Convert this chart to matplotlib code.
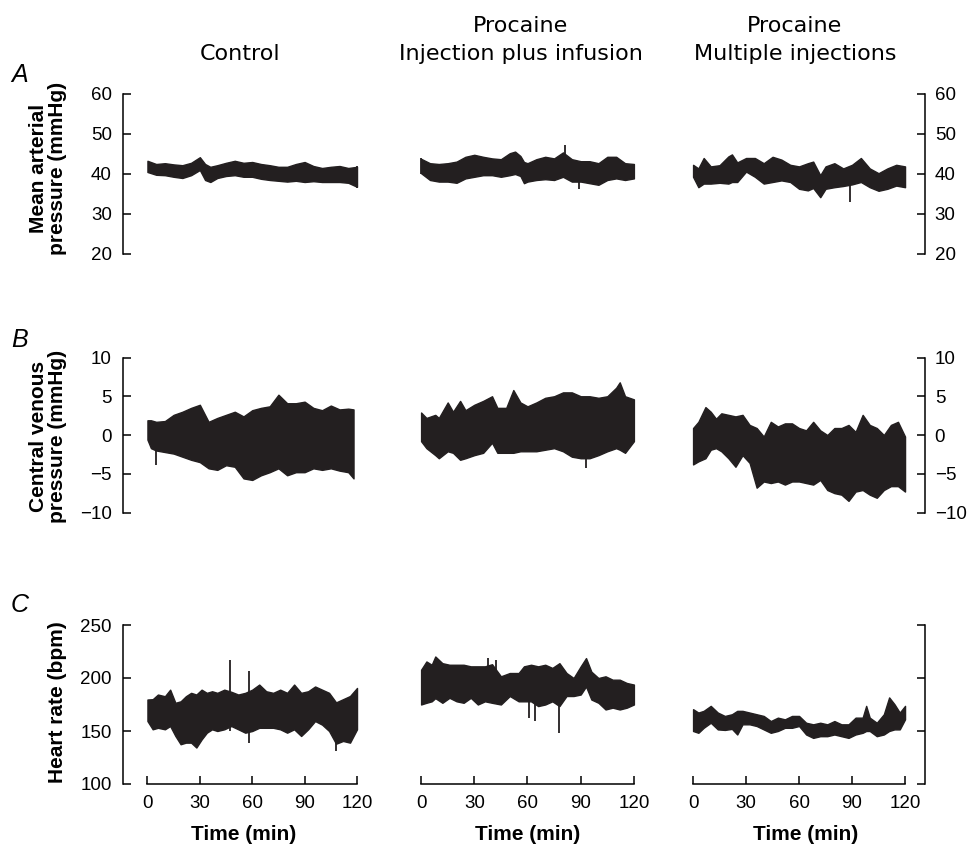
import numpy as np
import matplotlib
matplotlib.use("Agg")
import matplotlib.pyplot as plt

# ---- data (time in min, upper/lower edge of the trace band) ----
# A: mean arterial pressure (mmHg)
map_ctrl_t = [0, 5, 10, 15, 20, 25, 30, 33, 36, 40, 45, 50, 55, 60, 65, 70, 75, 80, 85, 90, 95, 100, 105, 110, 115, 120]
map_ctrl_hi = [43.3, 42.5, 42.7, 42.4, 42.2, 42.8, 44.2, 42.5, 41.8, 42.2, 42.8, 43.3, 42.8, 43.0, 42.5, 42.2, 41.8, 41.8, 42.5, 43.0, 42.0, 41.5, 41.8, 42.0, 41.5, 41.8]
map_ctrl_lo = [40.5, 39.8, 39.7, 39.3, 39.0, 39.7, 41.0, 38.5, 38.0, 39.0, 39.5, 39.7, 39.3, 39.3, 38.8, 38.5, 38.3, 38.1, 38.3, 38.0, 38.2, 38.0, 38.0, 38.0, 37.8, 36.8]
map_ctrl_spikes = [(120, 36.5, 42.0)]

map_inf_t = [0, 5, 10, 15, 20, 25, 30, 35, 40, 45, 50, 53, 56, 58, 60, 65, 70, 75, 80, 85, 90, 95, 100, 105, 110, 115, 120]
map_inf_hi = [43.8, 42.7, 42.5, 42.7, 43.1, 44.3, 44.8, 44.3, 43.9, 43.7, 45.2, 45.6, 44.5, 43.0, 42.7, 43.7, 44.3, 43.9, 45.4, 43.7, 43.2, 43.2, 42.7, 44.3, 44.3, 42.7, 42.5]
map_inf_lo = [40.2, 38.5, 38.1, 38.1, 37.8, 38.9, 39.3, 39.7, 39.7, 39.3, 39.7, 40.0, 39.5, 37.7, 38.1, 38.5, 38.7, 38.5, 39.3, 38.1, 38.1, 37.7, 37.3, 38.5, 38.9, 38.5, 38.9]
map_inf_spikes = [(0, 40.0, 44.0), (81, 40.0, 47.2), (89, 36.2, 42.0)]

map_inj_t = [0, 3, 6, 10, 15, 20, 22, 25, 30, 35, 40, 45, 50, 55, 60, 65, 68, 72, 75, 80, 85, 90, 95, 100, 105, 110, 115, 120]
map_inj_hi = [42.3, 41.4, 44.0, 41.9, 42.2, 44.4, 44.9, 42.9, 44.0, 44.0, 42.7, 44.3, 43.6, 42.3, 41.9, 42.7, 43.1, 39.7, 41.9, 42.7, 41.4, 42.3, 44.0, 41.4, 40.2, 41.4, 42.3, 41.9]
map_inj_lo = [39.3, 36.7, 37.6, 37.6, 37.8, 37.6, 38.0, 38.0, 40.6, 39.3, 37.6, 38.0, 38.4, 38.0, 36.3, 35.9, 36.5, 34.2, 36.3, 36.7, 37.0, 37.4, 38.0, 36.7, 35.8, 36.3, 37.1, 36.7]
map_inj_spikes = [(89, 33.0, 41.0)]

# B: central venous pressure (mmHg)
cvp_ctrl_t = [0, 2, 5, 10, 15, 20, 25, 30, 35, 40, 45, 50, 55, 60, 65, 70, 75, 80, 85, 90, 95, 100, 105, 110, 115, 118]
cvp_ctrl_hi = [1.9, 1.9, 1.7, 1.8, 2.6, 3.0, 3.5, 3.9, 1.7, 2.2, 2.6, 3.0, 2.4, 3.2, 3.5, 3.7, 5.2, 4.1, 4.1, 4.3, 3.5, 3.2, 3.8, 3.3, 3.4, 3.3]
cvp_ctrl_lo = [-0.6, -1.7, -2.0, -2.2, -2.4, -2.8, -3.2, -3.5, -4.3, -4.5, -3.9, -4.1, -5.6, -5.8, -5.2, -4.8, -4.3, -5.2, -4.8, -4.8, -4.3, -4.5, -4.3, -4.6, -4.8, -5.6]
cvp_ctrl_spikes = [(5, -3.9, 0.0)]

cvp_inf_t = [0, 3, 8, 10, 15, 18, 22, 25, 30, 35, 40, 43, 48, 52, 56, 60, 65, 70, 75, 80, 85, 90, 95, 100, 105, 110, 112, 115, 120]
cvp_inf_hi = [2.9, 2.2, 2.6, 2.2, 4.2, 3.0, 4.4, 3.2, 3.9, 4.4, 5.0, 3.5, 3.5, 5.8, 4.2, 3.7, 4.2, 4.8, 5.0, 5.5, 5.5, 5.0, 5.0, 4.8, 5.0, 6.1, 6.8, 5.0, 4.6]
cvp_inf_lo = [-0.8, -1.7, -2.6, -3.0, -2.1, -2.3, -3.2, -3.0, -2.6, -2.3, -1.0, -2.3, -2.3, -2.3, -2.1, -2.1, -2.1, -1.9, -1.7, -2.1, -2.8, -3.0, -3.0, -2.6, -2.1, -1.7, -1.9, -2.3, -0.8]
cvp_inf_spikes = [(93, -4.3, 0.0)]

cvp_inj_t = [0, 3, 7, 10, 13, 16, 20, 24, 28, 32, 36, 40, 44, 48, 52, 56, 60, 64, 68, 72, 76, 80, 84, 88, 92, 96, 100, 104, 108, 112, 116, 120]
cvp_inj_hi = [0.9, 1.7, 3.6, 3.0, 2.1, 2.8, 2.6, 2.4, 2.6, 1.3, 0.9, -0.2, 1.7, 1.1, 1.5, 1.5, 0.9, 0.6, 1.7, 0.6, 0.0, 0.9, 0.9, 1.3, 0.4, 2.6, 1.3, 0.9, 0.0, 1.3, 1.7, -0.2]
cvp_inj_lo = [-3.8, -3.4, -3.0, -1.9, -1.7, -2.1, -3.0, -4.1, -2.6, -3.6, -6.8, -6.0, -6.2, -6.0, -6.4, -6.0, -6.0, -6.2, -6.4, -5.8, -7.1, -7.5, -7.7, -8.5, -7.3, -7.1, -7.7, -8.1, -7.1, -6.6, -6.6, -7.3]
cvp_inj_spikes = []

# C: heart rate (bpm)
hr_ctrl_t = [0, 3, 6, 10, 13, 16, 19, 22, 25, 28, 31, 34, 37, 40, 44, 48, 52, 56, 60, 64, 68, 72, 76, 80, 84, 88, 92, 96, 100, 104, 108, 112, 116, 120]
hr_ctrl_hi = [179.7, 180, 184.4, 182.8, 189, 176.6, 178, 182.8, 186, 184.4, 189, 186, 187.5, 186, 189, 187, 184.4, 186, 189, 193.8, 187.5, 186, 189, 186, 193.8, 186, 187.5, 192, 189, 186, 177, 180, 183, 190.6]
hr_ctrl_lo = [159.4, 151.6, 153, 151.6, 154.7, 145.3, 137.5, 139, 139, 134.4, 142, 148.4, 151.6, 150, 151.6, 154.7, 151.6, 148.4, 150, 153, 153, 153, 151.6, 148.4, 151.6, 145.3, 151.6, 159.4, 156, 150, 138, 140.6, 139, 151.6]
hr_ctrl_spikes = [(47, 150, 217), (58, 139, 207), (108, 131, 170)]

hr_inf_t = [0, 3, 6, 8, 12, 16, 20, 24, 28, 32, 36, 40, 45, 50, 55, 58, 62, 66, 70, 74, 78, 82, 86, 90, 93, 96, 100, 104, 108, 112, 116, 120]
hr_inf_hi = [207.8, 215.6, 212.5, 220.3, 214, 212.5, 212.5, 212.5, 211, 211, 211, 213, 201.6, 204.7, 204.7, 211, 212.5, 211, 212.5, 209.5, 214, 204.7, 200, 211, 218.8, 206, 200, 201.6, 198.4, 198.4, 195.3, 193.8]
hr_inf_lo = [175, 176.6, 178, 181, 176.6, 181.3, 178, 176.6, 181.3, 175, 178, 176.6, 175, 183, 178, 178, 178, 173.5, 175, 178, 173.5, 183, 183, 184.4, 192, 179.7, 176.6, 170.3, 172, 170.3, 172, 175]
hr_inf_spikes = [(38, 190, 218.8), (42, 190, 217), (61, 162.5, 200), (64, 159.4, 200), (78, 148.4, 195)]

hr_inj_t = [0, 3, 6, 10, 14, 18, 22, 25, 28, 32, 36, 40, 44, 48, 52, 56, 60, 64, 68, 72, 76, 80, 84, 88, 92, 96, 98, 100, 104, 108, 111, 114, 117, 120]
hr_inj_hi = [170.6, 167.4, 169, 173.7, 167.4, 164.2, 165.8, 169, 169, 167.4, 165.8, 164.2, 159.4, 162.6, 161, 164.2, 164.2, 157.8, 156.3, 157.8, 156.3, 159.4, 156.3, 156.3, 162.6, 162.6, 173.7, 162.6, 157.8, 165.8, 181.7, 175.3, 167.4, 173.7]
hr_inj_lo = [150, 148.3, 153, 157.8, 151.5, 151, 152, 146.7, 156.3, 156.3, 154.7, 151.5, 148.3, 150, 153, 153, 154.7, 146.7, 143.5, 145.1, 145.1, 146.7, 145.1, 143.5, 146.7, 148.3, 150, 150, 145.1, 146.7, 150, 151.5, 151.5, 161]
hr_inj_spikes = []

col_titles = ["Control", "Procaine\nInjection plus infusion", "Procaine\nMultiple injections"]
row_letters = ["A", "B", "C"]
row_ylabels = ["Mean arterial\npressure (mmHg)", "Central venous\npressure (mmHg)", "Heart rate (bpm)"]
row_ylims = [(20, 60), (-10, 10), (100, 250)]
row_yticks = [[20, 30, 40, 50, 60], [-10, -5, 0, 5, 10], [100, 150, 200, 250]]
time_ticks = [0, 30, 60, 90, 120]

traces = [
    [(map_ctrl_t, map_ctrl_hi, map_ctrl_lo, map_ctrl_spikes),
     (map_inf_t, map_inf_hi, map_inf_lo, map_inf_spikes),
     (map_inj_t, map_inj_hi, map_inj_lo, map_inj_spikes)],
    [(cvp_ctrl_t, cvp_ctrl_hi, cvp_ctrl_lo, cvp_ctrl_spikes),
     (cvp_inf_t, cvp_inf_hi, cvp_inf_lo, cvp_inf_spikes),
     (cvp_inj_t, cvp_inj_hi, cvp_inj_lo, cvp_inj_spikes)],
    [(hr_ctrl_t, hr_ctrl_hi, hr_ctrl_lo, hr_ctrl_spikes),
     (hr_inf_t, hr_inf_hi, hr_inf_lo, hr_inf_spikes),
     (hr_inj_t, hr_inj_hi, hr_inj_lo, hr_inj_spikes)],
]

# ---- layout (pixel geometry of the original figure) ----
W, H = 970, 850
plt.rcParams["font.family"] = ["Liberation Sans", "DejaVu Sans"]
fig = plt.figure(figsize=(W / 100, H / 100), dpi=100)

# column: (left px, right px, xlim)
cols = [(123, 364, (-14, 124)), (414, 641, (-4, 124)), (686, 925, (-4, 131.3))]
# row: (top px, bottom px)
rows = [(94, 254), (357.5, 512.5), (625, 784)]

ink = "#231f20"
tick_fs = 13.5

for r, (top, bot) in enumerate(rows):
    for c, (left, right, xlim) in enumerate(cols):
        ax = fig.add_axes([left / W, 1 - bot / H, (right - left) / W, (bot - top) / H])
        t, hi, lo, spikes = traces[r][c]
        ax.fill_between(t, lo, hi, color=ink, lw=1.0, edgecolor=ink)
        for ts, s_lo, s_hi in spikes:
            ax.vlines(ts, s_lo, s_hi, color=ink, lw=1.3)
        ax.set_xlim(*xlim)
        ax.set_ylim(*row_ylims[r])
        for sp in ax.spines.values():
            sp.set_visible(False)
            sp.set_linewidth(1.1)

        # y axis
        if c == 0 or c == 2:
            side = "left" if c == 0 else "right"
            ax.spines[side].set_visible(True)
            ax.spines[side].set_bounds(*row_ylims[r])
            ax.yaxis.set_ticks_position(side)
            ax.set_yticks(row_yticks[r])
            show = not (c == 2 and r == 2)
            if not show:
                ax.set_yticklabels([])
            ax.tick_params(axis="y", direction="in", length=6, width=1.1,
                           pad=8 if c == 0 else 7, labelsize=tick_fs)
        else:
            ax.set_yticks([])

        # x axis (time) only on the bottom row
        if r == 2:
            ax.spines["bottom"].set_visible(True)
            ax.spines["bottom"].set_bounds(0, 120)
            ax.set_xticks(time_ticks)
            ax.tick_params(axis="x", direction="in", length=6, width=1.1,
                           pad=8, labelsize=tick_fs)
            ax.set_xlabel("Time (min)", fontsize=15, fontweight="bold", labelpad=9)
        else:
            ax.set_xticks([])
        ax.patch.set_visible(False)

# column titles
title_x = [240, 521, 795]
for c, txt in enumerate(col_titles):
    fig.text(title_x[c] / W, 1 - 64 / H, txt, ha="center", va="bottom",
             fontsize=16, family=["DejaVu Sans"], linespacing=1.5)

# panel letters and y labels
letter_y = [75, 340, 605]
ylabel_pos = [(48, 168), (48, 436), (58, 702)]
for r in range(3):
    fig.text(20 / W, 1 - letter_y[r] / H, row_letters[r], ha="center", va="center",
             fontsize=18, style="italic")
    x, y = ylabel_pos[r]
    fig.text(x / W, 1 - y / H, row_ylabels[r], ha="center", va="center", rotation=90,
             fontsize=15, fontweight="bold", linespacing=0.95, multialignment="center")

fig.savefig("out.png", dpi=100, facecolor="white")
